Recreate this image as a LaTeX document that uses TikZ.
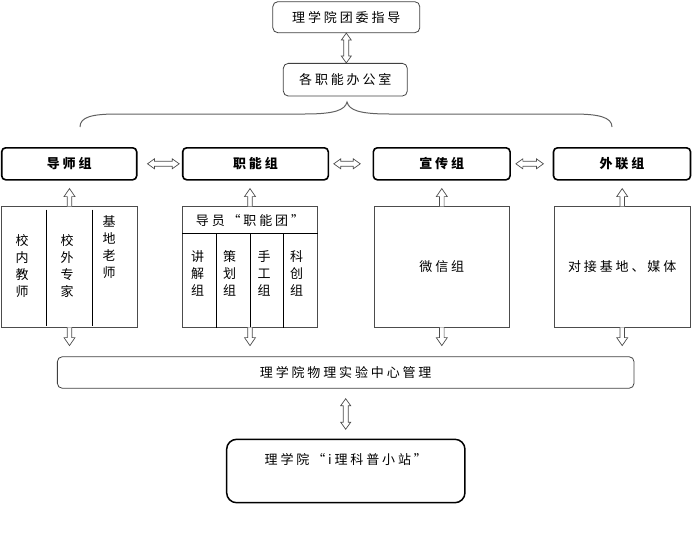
\documentclass[tikz,border=0pt]{standalone}
\usepackage{fontspec}
\setmainfont{Noto Sans CJK SC}[LetterSpace=22]
\newfontfamily\cjkplain{Noto Sans CJK SC}
\usetikzlibrary{calc}
% double block arrow between two points
\newcommand\dblarrow[2]{%
  \path ($(#1)!7pt!(#2)$) coordinate (ha) ($(#2)!7pt!(#1)$) coordinate (hb);
  \path[blk] (#1) -- ($(ha)!5pt!90:(#2)$) -- ($(ha)!2.5pt!90:(#2)$) --
    ($(hb)!2.5pt!-90:(#1)$) -- ($(hb)!5pt!-90:(#1)$) -- (#2) --
    ($(hb)!5pt!90:(#1)$) -- ($(hb)!2.5pt!90:(#1)$) --
    ($(ha)!2.5pt!-90:(#2)$) -- ($(ha)!5pt!-90:(#2)$) -- cycle;}
% single block arrow, open at its tail
\newcommand\sglarrow[2]{%
  \path ($(#2)!8pt!(#1)$) coordinate (hh);
  \path[blk] ($(#1)!2.3pt!90:(#2)$) -- ($(hh)!2.3pt!90:(#2)$) --
    ($(hh)!5.5pt!90:(#2)$) -- (#2) -- ($(hh)!5.5pt!-90:(#2)$) --
    ($(hh)!2.3pt!-90:(#2)$) -- ($(#1)!2.3pt!-90:(#2)$);}
\begin{document}
\begin{tikzpicture}[x=1pt,y=-1pt,font=\fontsize{13}{17}\selectfont,
  softbox/.style={draw=black!75,line width=0.8pt,rounded corners=5pt,inner sep=0pt},
  groupbox/.style={draw=black,line width=1.6pt,rounded corners=4pt,inner sep=0pt,
    minimum height=32pt,font=\fontsize{13}{17}\selectfont\bfseries},
  listbox/.style={draw=black!70,line width=0.8pt,inner sep=0pt,minimum height=121.5pt},
  divider/.style={draw=black,line width=0.8pt},
  vtext/.style={align=center,inner sep=0pt,font=\cjkplain\fontsize{13}{17}\selectfont},
  blk/.style={draw=black!70,line width=0.7pt,fill=white,line join=miter},
  bracecurve/.style={draw=black!62,line width=1pt}]
\useasboundingbox (0,0) rectangle (692,535);

% top boxes
\node[softbox,minimum width=147pt,minimum height=31pt] (lead) at (346.3,17.2) {理学院团委指导};
\node[softbox,minimum width=124pt,minimum height=32.7pt] (office) at (345.3,79.7) {各职能办公室};

% brace
\draw[bracecurve] (80,127) .. controls (80,117) and (92,114) .. (117,114) -- (305,114)
  .. controls (335,114) and (345,110) .. (347,102)
  .. controls (349,110) and (359,114) .. (389,114) -- (573,114)
  .. controls (598,114) and (612,117) .. (612,127);

% group boxes
\node[groupbox,minimum width=135pt] (g1) at (69.2,163.8) {导师组};
\node[groupbox,minimum width=145.6pt] (g2) at (255.5,163.8) {职能组};
\node[groupbox,minimum width=136.7pt] (g3) at (441.7,163.8) {宣传组};
\node[groupbox,minimum width=137pt] (g4) at (622,163.8) {外联组};

% list boxes
\node[listbox,minimum width=135.6pt] (l1) at (69.5,266.8) {};
\node[listbox,minimum width=134.6pt] (l2) at (250,266.8) {};
\node[listbox,minimum width=135pt] (l3) at (441.8,266.8) {\fontsize{13}{17}\selectfont 微信组};
\node[listbox,minimum width=135.7pt] (l4) at (622.2,266.8) {对接基地、媒体};

% dividers of list 1
\draw[divider] ($(l1.north west)!1/3!(l1.north east)+(0,4)$) -- ($(l1.south west)!1/3!(l1.south east)+(0,-2)$);
\draw[divider] ($(l1.north west)!2/3!(l1.north east)+(0,4)$) -- ($(l1.south west)!2/3!(l1.south east)+(0,-2)$);
\node[vtext] (t11) at (22,266) {校\\内\\教\\师};
\node[vtext] (t12) at (67,266) {校\\外\\专\\家};
\node[vtext] (t13) at (109,247.5) {基\\地\\老\\师};

% list 2
\coordinate (hl) at ($(l2.north west)+(0,28)$);
\coordinate (hr) at ($(l2.north east)+(0,28)$);
\draw[divider] (hl) -- (hr);
\foreach \f in {0.25,0.5,0.75}{
  \draw[divider] ($(hl)!\f!(hr)$) -- ($(l2.south west)!\f!(l2.south east)$);}
\node[inner sep=0pt] (hd) at (250,220.5) {导员“职能团”};
\node[vtext] (t21) at (197.5,273) {讲\\解\\组};
\node[vtext] (t22) at (229.5,273) {策\\划\\组};
\node[vtext] (t23) at (264,273) {手\\工\\组};
\node[vtext] (t24) at (296.5,273) {科\\创\\组};

% lab and station
\node[softbox,minimum width=576.7pt,minimum height=31.6pt] (lab) at (345.7,372.5) {理学院物理实验中心管理};
\node[draw=black,line width=1.5pt,rounded corners=10pt,inner sep=0pt,
  minimum width=238.3pt,minimum height=63.4pt,text height=12pt,text depth=25pt] (station) at (345.8,471) {理学院“i理科普小站”};

% arrows
\dblarrow{lead.south}{lead.south |- office.north}
\coordinate (a1) at ($(g1.east)+(10,0)$);
\coordinate (b1) at ($(g2.west)+(-2.7,0)$);
\coordinate (a2) at ($(g2.east)+(4.7,0)$);
\coordinate (b2) at ($(g3.west)+(-12.3,0)$);
\coordinate (a3) at ($(g3.east)+(5,0)$);
\coordinate (b3) at ($(g4.west)+(-9.3,0)$);
\dblarrow{a1}{b1}
\dblarrow{a2}{b2}
\dblarrow{a3}{b3}
\foreach \i in {1,2,3,4}{
  \coordinate (u\i) at ($(l\i.north)+(0,0.6)$);
  \coordinate (ut\i) at ($(l\i.north |- g\i.south)+(0,8)$);
  \sglarrow{u\i}{ut\i}
  \coordinate (d\i) at ($(l\i.south)+(0,-0.6)$);
  \coordinate (dt\i) at ($(l\i.south |- lab.north)+(0,-10.7)$);
  \sglarrow{d\i}{dt\i}
}
\coordinate (sa) at ($(lab.south)+(0,10)$);
\coordinate (sb) at ($(lab.south |- station.north)+(0,-9.3)$);
\dblarrow{sa}{sb}
\end{tikzpicture}
\end{document}
